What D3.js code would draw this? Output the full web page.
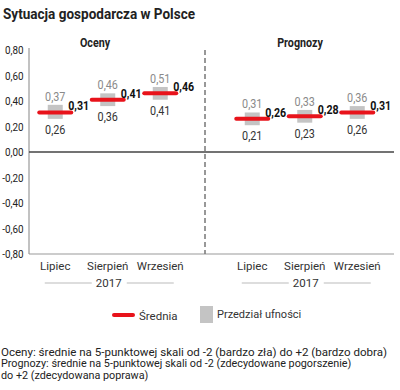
<!DOCTYPE html>
<html><head><meta charset="utf-8">
<script src="https://cdn.jsdelivr.net/npm/d3@7"></script>
<style>body{margin:0;background:#fff}svg{display:block}</style>
</head><body>
<script>
const categories = ["Lipiec", "Sierpień", "Wrzesień"];
const yearLabel = "2017";
const panels = ["Oceny", "Prognozy"];
const ocenyMean = [0.31, 0.41, 0.46];
const ocenyUpper = [0.37, 0.46, 0.51];
const ocenyLower = [0.26, 0.36, 0.41];
const prognozyMean = [0.26, 0.28, 0.31];
const prognozyUpper = [0.31, 0.33, 0.36];
const prognozyLower = [0.21, 0.23, 0.26];
const yTicks = [0.8, 0.6, 0.4, 0.2, 0, -0.2, -0.4, -0.6, -0.8];
const title = "Sytuacja gospodarcza w Polsce";
const legendLabels = ["Średnia", "Przedział ufności"];
const footnotes = [
  "Oceny: średnie na 5-punktowej skali od -2 (bardzo zła) do +2 (bardzo dobra)",
  "Prognozy: średnie na 5-punktowej skali od -2 (zdecydowane pogorszenie)",
  "do +2 (zdecydowana poprawa)"
];

const W = 400, H = 390;
const svg = d3.select("body").append("svg").attr("width", W).attr("height", H);
const reg = "Roboto,'Noto Sans',sans-serif";

function ctext(parent, x, y, txt, size, weight, fill, sx, anchor) {
  return parent.append("text").attr("transform", `translate(${x},${y}) scale(${sx},1)`)
    .attr("text-anchor", anchor || "start").text(txt)
    .attr("font-family", reg).attr("font-weight", weight).attr("font-size", size).attr("fill", fill);
}

svg.append("text").attr("x", 3).attr("y", 19).text(title)
  .attr("font-family", reg).attr("font-weight", "bold").attr("font-size", 15.5).attr("fill", "#222")
  .attr("textLength", 192).attr("lengthAdjust", "spacingAndGlyphs");

const y = d3.scaleLinear().domain([-0.8, 0.8]).range([254, 50]);
const axisX = 29, rightX = 394, divX = 205;
const fmt = v => d3.format(".2f")(v).replace(".", ",").replace("−", "-");

const yAxis = d3.axisLeft(y).tickValues(yTicks).tickFormat(fmt).tickSize(0).tickPadding(0);
const gy = svg.append("g").attr("transform", `translate(${axisX - 5.5},0)`).call(yAxis);
gy.select(".domain").remove();
gy.selectAll("text").attr("x", 0).attr("transform", "scale(0.86,1)")
  .attr("font-family", reg).attr("font-size", 11.5).attr("fill", "#222");

svg.append("line").attr("x1", axisX).attr("x2", axisX).attr("y1", y(0.8) - 2).attr("y2", y(-0.8))
  .attr("stroke", "#999").attr("stroke-width", 1.2);
svg.append("line").attr("x1", axisX).attr("x2", rightX).attr("y1", y(-0.8)).attr("y2", y(-0.8))
  .attr("stroke", "#999").attr("stroke-width", 1.2);
svg.append("line").attr("x1", axisX).attr("x2", rightX).attr("y1", y(0)).attr("y2", y(0))
  .attr("stroke", "#444").attr("stroke-width", 1.3);
svg.append("line").attr("x1", divX).attr("x2", divX).attr("y1", y(0.8)).attr("y2", y(-0.8))
  .attr("stroke", "#777").attr("stroke-width", 1.5).attr("stroke-dasharray", "5,3");

const panelData = [
  {name: panels[0], mean: ocenyMean, up: ocenyUpper, lo: ocenyLower, range: [29, 186.5], titleX: 95},
  {name: panels[1], mean: prognozyMean, up: prognozyUpper, lo: prognozyLower, range: [226, 383.5], titleX: 300}
];

panelData.forEach(p => {
  const x = d3.scaleBand().domain(categories).range(p.range);
  const g = svg.append("g");
  ctext(g, p.titleX, 47, p.name, 12.5, "bold", "#222", 0.86, "middle");
  const xAxis = d3.axisBottom(x).tickSize(0).tickPadding(8);
  const gx = g.append("g").attr("transform", `translate(0,${y(-0.8)})`).call(xAxis);
  gx.select(".domain").remove();
  gx.selectAll("text").attr("font-family", reg).attr("font-size", 11.5).attr("fill", "#333");
  const cx = (p.range[0] + p.range[1]) / 2 + 1;
  g.append("text").attr("x", cx).attr("y", 287).attr("text-anchor", "middle").text(yearLabel)
    .attr("font-family", reg).attr("font-size", 11.5).attr("fill", "#333");
  g.append("line").attr("x1", cx - 64).attr("x2", cx - 17).attr("y1", 283).attr("y2", 283).attr("stroke", "#bbb");
  g.append("line").attr("x1", cx + 18).attr("x2", cx + 65).attr("y1", 283).attr("y2", 283).attr("stroke", "#bbb");

  categories.forEach((c, i) => {
    const cxi = x(c) + x.bandwidth() / 2;
    g.append("rect").attr("x", cxi - 7.5).attr("width", 15)
      .attr("y", y(p.up[i])).attr("height", y(p.lo[i]) - y(p.up[i])).attr("fill", "#c4c4c4");
    g.append("line").attr("x1", cxi - 16).attr("x2", cxi + 16).attr("y1", y(p.mean[i])).attr("y2", y(p.mean[i]))
      .attr("stroke", "#e8131b").attr("stroke-width", 4).attr("stroke-linecap", "round");
    ctext(g, cxi, y(p.up[i]) - 4, fmt(p.up[i]), 12, "normal", "#8a8a8a", 0.9, "middle");
    ctext(g, cxi, y(p.lo[i]) + 15, fmt(p.lo[i]), 12, "normal", "#333", 0.9, "middle");
    ctext(g, cxi + 13, y(p.mean[i]) - 2, fmt(p.mean[i]), 13, "bold", "#111", 0.82, "start");
  });
});

const lg = svg.append("g");
lg.append("line").attr("x1", 114).attr("x2", 133).attr("y1", 315).attr("y2", 315)
  .attr("stroke", "#e8131b").attr("stroke-width", 4).attr("stroke-linecap", "round");
lg.append("text").attr("x", 139).attr("y", 320).text(legendLabels[0])
  .attr("font-family", reg).attr("font-size", 11.5).attr("fill", "#333");
lg.append("rect").attr("x", 200).attr("y", 306).attr("width", 13).attr("height", 17).attr("fill", "#c4c4c4");
lg.append("text").attr("x", 217).attr("y", 318).text(legendLabels[1])
  .attr("font-family", reg).attr("font-size", 11).attr("fill", "#333");

footnotes.forEach((t, i) => {
  svg.append("text").attr("x", 1).attr("y", 355.5 + i * 11.5).text(t)
    .attr("font-family", reg).attr("font-size", 10.8).attr("fill", "#222")
    .attr("textLength", i === 0 ? 386 : null).attr("lengthAdjust", "spacingAndGlyphs");
});
</script>
</body></html>
